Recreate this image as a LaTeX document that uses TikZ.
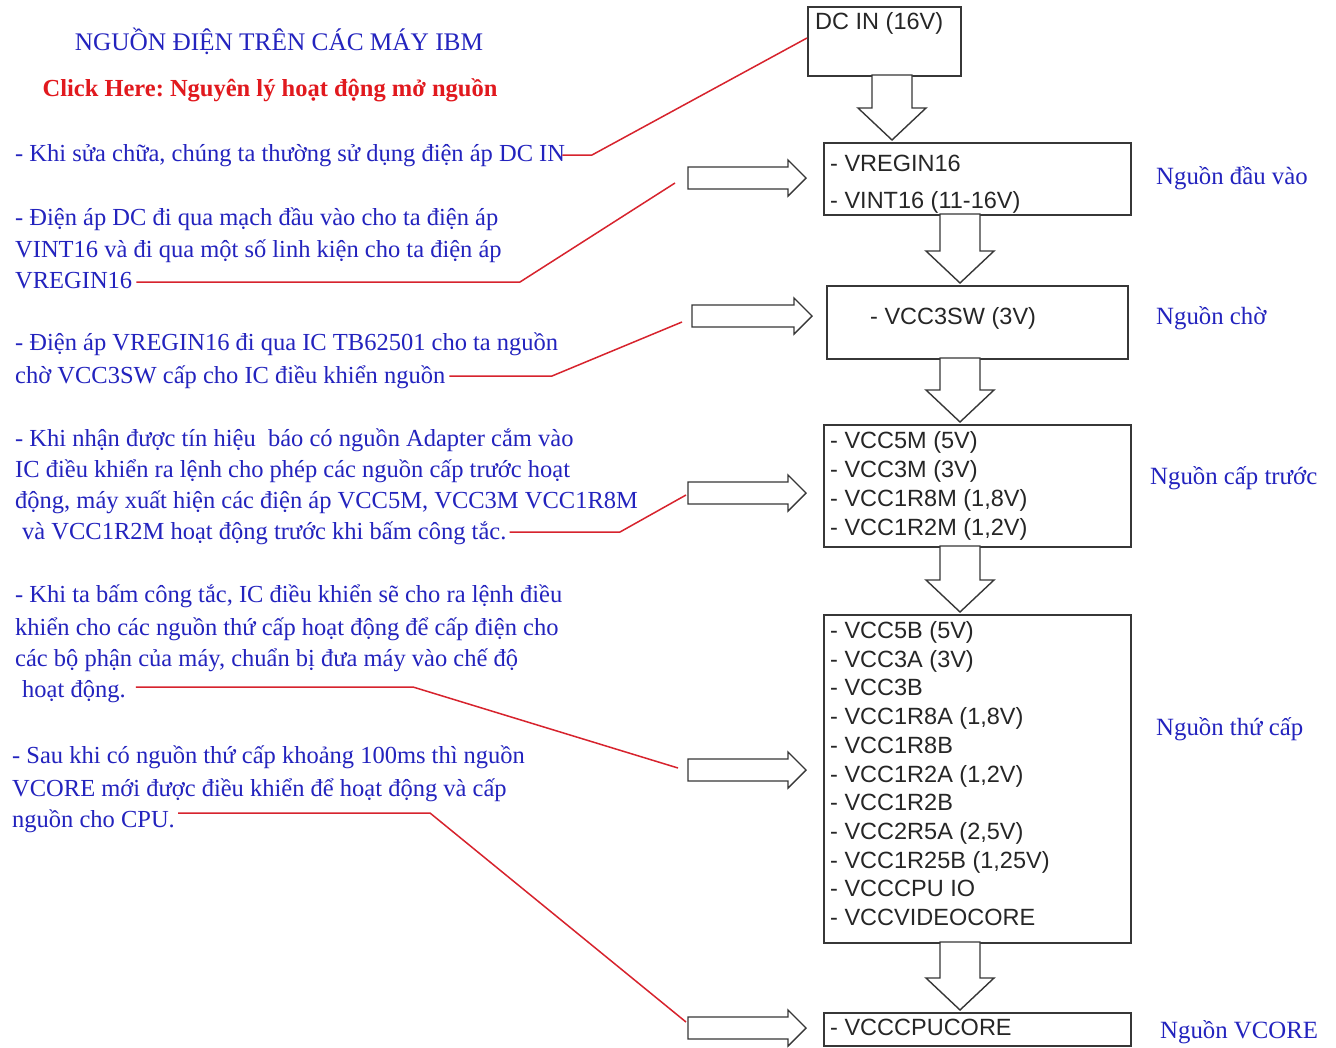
\documentclass[tikz,border=0pt]{standalone}
\usepackage{fontspec}
\setmainfont{Liberation Serif}
\setsansfont{Liberation Sans}
\frenchspacing
\definecolor{txtblue}{RGB}{35,35,190}
\definecolor{txtred}{RGB}{225,25,30}
\definecolor{linered}{RGB}{215,35,45}
\definecolor{boxgray}{RGB}{55,55,55}
\newcommand{\dnblk}[3]{%
  \draw[blk] (#1-20,#2) -- (#1+20,#2) -- (#1+20,#3-32) -- (#1+34,#3-32) -- (#1,#3) -- (#1-34,#3-32) -- (#1-20,#3-32) -- cycle;}
\newcommand{\rtblk}[3]{%
  \draw[blk] (#1,#2-11) -- (#3-18,#2-11) -- (#3-18,#2-18) -- (#3,#2) -- (#3-18,#2+18) -- (#3-18,#2+11) -- (#1,#2+11) -- cycle;}
\begin{document}
\frenchspacing
\begin{tikzpicture}[x=1pt,y=-1pt,
  desc/.style={anchor=base west, inner sep=0pt, text=txtblue, font=\fontsize{24.5}{30}\selectfont},
  side/.style={anchor=base west, inner sep=0pt, text=txtblue, font=\fontsize{24.8}{30}\selectfont},
  boxtxt/.style={anchor=base west, inner sep=0pt, text=black!85, font=\sffamily\fontsize{23.5}{28}\selectfont},
  pbox/.style={draw=boxgray, line width=1.6pt, anchor=north west, inner sep=0pt},
  blk/.style={draw=boxgray, line width=1.4pt, fill=white, line join=miter},
  lead/.style={draw=linered, line width=1.5pt}]
\useasboundingbox[fill=white] (0,0) rectangle (1336,1047);

% titles
\node[anchor=base, inner sep=0pt, text=txtblue, font=\fontsize{25.3}{30}\selectfont] (title) at (279,50) {NGUỒN ĐIỆN TRÊN CÁC MÁY IBM};
\node[anchor=base, inner sep=0pt, text=txtred, font=\bfseries\fontsize{24.5}{30}\selectfont] (click) at (270,96) {Click Here: Nguyên lý hoạt động mở nguồn};

% boxes
\node[pbox, minimum width=153pt, minimum height=69pt] (dc) at (807,6) {};
\node[pbox, minimum width=307pt, minimum height=72pt] (b2) at (823,142) {};
\node[pbox, minimum width=301pt, minimum height=73pt] (b3) at (826,285) {};
\node[pbox, minimum width=307pt, minimum height=122pt] (b4) at (823,424) {};
\node[pbox, minimum width=307pt, minimum height=328pt] (b5) at (823,614) {};
\node[pbox, minimum width=307pt, minimum height=33pt] (b6) at (823,1012) {};

% box texts
\node[boxtxt] (dct) at (815,29) {DC IN (16V)};
\node[boxtxt] (b2a) at (830,171.5) {- VREGIN16};
\node[boxtxt] (b2b) at (830,208.5) {- VINT16 (11-16V)};
\node[boxtxt] (b3a) at (870,324.5) {- VCC3SW (3V)};
\node[boxtxt] (b4a) at (830,448.5) {- VCC5M (5V)};
\node[boxtxt] (b4b) at (830,477.5) {- VCC3M (3V)};
\node[boxtxt] (b4c) at (830,506.5) {- VCC1R8M (1,8V)};
\node[boxtxt] (b4d) at (830,535.5) {- VCC1R2M (1,2V)};
\node[boxtxt] (b5a) at (830,638.5) {- VCC5B (5V)};
\node[boxtxt] (b5b) at (830,667.2) {- VCC3A (3V)};
\node[boxtxt] (b5c) at (830,695.9) {- VCC3B};
\node[boxtxt] (b5d) at (830,724.6) {- VCC1R8A (1,8V)};
\node[boxtxt] (b5e) at (830,753.3) {- VCC1R8B};
\node[boxtxt] (b5f) at (830,782.0) {- VCC1R2A (1,2V)};
\node[boxtxt] (b5g) at (830,810.7) {- VCC1R2B};
\node[boxtxt] (b5h) at (830,839.4) {- VCC2R5A (2,5V)};
\node[boxtxt] (b5i) at (830,868.1) {- VCC1R25B (1,25V)};
\node[boxtxt] (b5j) at (830,896.8) {- VCCCPU IO};
\node[boxtxt] (b5k) at (830,925.5) {- VCCVIDEOCORE};
\node[boxtxt] (b6a) at (830,1035.5) {- VCCCPUCORE};

% side labels
\node[side] (s2) at (1156,184) {Nguồn đầu vào};
\node[side] (s3) at (1156,324) {Nguồn chờ};
\node[side] (s4) at (1150,484) {Nguồn cấp trước};
\node[side] (s5) at (1156,735) {Nguồn thứ cấp};
\node[side] (s6) at (1160,1038) {Nguồn VCORE};

% down block arrows
\dnblk{892}{75}{140}
\dnblk{960}{214}{283}
\dnblk{960}{358}{422}
\dnblk{960}{546}{612}
\dnblk{960}{942}{1010}

% right block arrows
\rtblk{688}{178}{806}
\rtblk{692}{316}{812}
\rtblk{688}{493}{806}
\rtblk{688}{770}{806}
\rtblk{688}{1028}{806}
\coordinate (a2) at (675,183);
\coordinate (a3) at (682,322);
\coordinate (a4) at (686,495);
\coordinate (a5) at (678,768);
\coordinate (a6) at (686,1022);

% descriptions
\node[desc] (p1) at (15,161) {- Khi sửa chữa, chúng ta thường sử dụng điện áp DC IN};
\node[desc] (p2a) at (15,225) {- Điện áp DC đi qua mạch đầu vào cho ta điện áp};
\node[desc] (p2b) at (15,257) {VINT16 và đi qua một số linh kiện cho ta điện áp};
\node[desc] (p2c) at (15,288) {VREGIN16};
\node[desc] (p3a) at (15,350) {- Điện áp VREGIN16 đi qua IC TB62501 cho ta nguồn};
\node[desc] (p3b) at (15,383) {chờ VCC3SW cấp cho IC điều khiển nguồn};
\node[desc] (p4a) at (15,446) {- Khi nhận được tín hiệu \ báo có nguồn Adapter cắm vào};
\node[desc] (p4b) at (15,477) {IC điều khiển ra lệnh cho phép các nguồn cấp trước hoạt};
\node[desc] (p4c) at (15,508) {động, máy xuất hiện các điện áp VCC5M, VCC3M VCC1R8M};
\node[desc] (p4d) at (22,539) {và VCC1R2M hoạt động trước khi bấm công tắc.};
\node[desc] (p5a) at (15,602) {- Khi ta bấm công tắc, IC điều khiển sẽ cho ra lệnh điều};
\node[desc] (p5b) at (15,635) {khiển cho các nguồn thứ cấp hoạt động để cấp điện cho};
\node[desc] (p5c) at (15,666) {các bộ phận của máy, chuẩn bị đưa máy vào chế độ};
\node[desc] (p5d) at (22,697) {hoạt động.};
\node[desc] (p6a) at (12,763) {- Sau khi có nguồn thứ cấp khoảng 100ms thì nguồn};
\node[desc] (p6b) at (12,796) {VCORE mới được điều khiển để hoạt động và cấp};
\node[desc] (p6c) at (12,827) {nguồn cho CPU.};

% red leader lines
\draw[lead] ([xshift=-3pt,yshift=6pt]p1.base east) -- (592,155) -- (dc.west |- 0,38);
\draw[lead] ([xshift=4pt,yshift=6pt]p2c.base east) -- (520,282) -- (a2);
\draw[lead] ([xshift=4pt,yshift=7pt]p3b.base east) -- (552,376) -- (a3);
\draw[lead] ([xshift=3pt,yshift=7pt]p4d.base east) -- (620,532) -- (a4);
\draw[lead] ([xshift=10pt,yshift=10pt]p5d.base east) -- (413,687) -- (a5);
\draw[lead] ([xshift=3pt,yshift=14pt]p6c.base east) -- (430,813) -- (a6);
\end{tikzpicture}
\end{document}
